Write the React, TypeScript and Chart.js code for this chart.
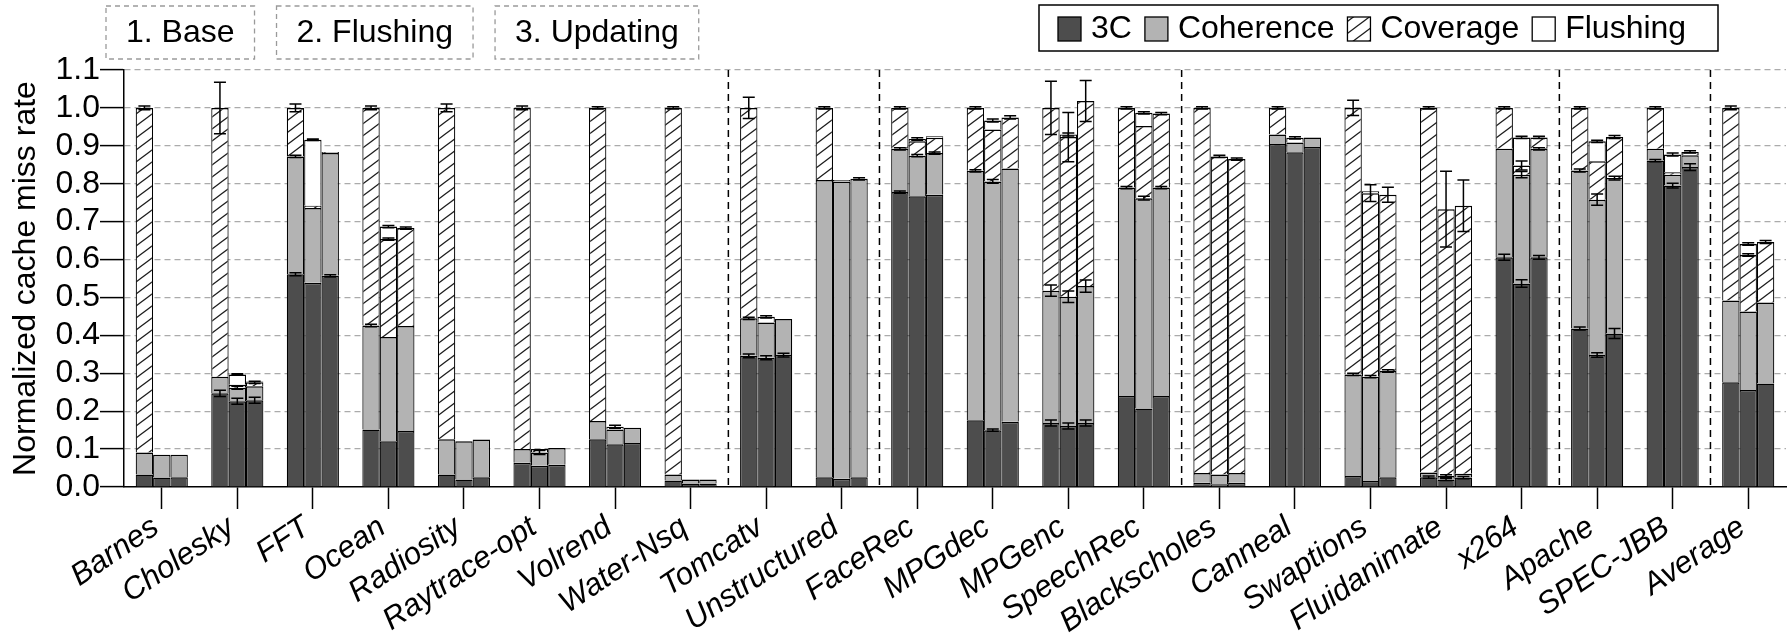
import React, { useEffect, useRef } from 'react';
import { Chart, registerables } from 'chart.js';

Chart.register(...registerables);

const categories = ['Barnes', 'Cholesky', 'FFT', 'Ocean', 'Radiosity', 'Raytrace-opt', 'Volrend', 'Water-Nsq', 'Tomcatv', 'Unstructured', 'FaceRec', 'MPGdec', 'MPGenc', 'SpeechRec', 'Blackscholes', 'Canneal', 'Swaptions', 'Fluidanimate', 'x264', 'Apache', 'SPEC-JBB', 'Average'];
const configLabels = ['1. Base', '2. Flushing', '3. Updating'];
const componentLabels = ['3C', 'Coherence', 'Coverage', 'Flushing'];
const yTickValues = [0, 0.1, 0.2, 0.3, 0.4, 0.5, 0.6, 0.7, 0.8, 0.9, 1.0, 1.1];
const separatorsAfter = ['Water-Nsq', 'Unstructured', 'SpeechRec', 'x264', 'SPEC-JBB'];

// 1. Base
const base3C = [0.033, 0.247, 0.561, 0.152, 0.033, 0.064, 0.126, 0.017, 0.346, 0.026, 0.778, 0.176, 0.169, 0.240, 0.011, 0.905, 0.029, 0.026, 0.606, 0.418, 0.861, 0.276];
const baseCoh = [0.058, 0.044, 0.311, 0.274, 0.093, 0.036, 0.048, 0.016, 0.099, 0.784, 0.114, 0.658, 0.349, 0.550, 0.026, 0.025, 0.268, 0.012, 0.286, 0.417, 0.031, 0.216];
const baseCov = [0.909, 0.709, 0.128, 0.574, 0.874, 0.900, 0.826, 0.967, 0.555, 0.190, 0.108, 0.166, 0.482, 0.210, 0.963, 0.070, 0.703, 0.962, 0.108, 0.165, 0.108, 0.508];
const baseFlush = [0, 0, 0, 0, 0, 0, 0, 0, 0, 0, 0, 0, 0, 0, 0, 0, 0, 0, 0, 0, 0, 0];

// 2. Flushing
const flush3C = [0.025, 0.226, 0.539, 0.121, 0.020, 0.056, 0.113, 0.009, 0.341, 0.022, 0.767, 0.150, 0.161, 0.207, 0.007, 0.883, 0.016, 0.020, 0.537, 0.348, 0.795, 0.256];
const flushCoh = [0.060, 0.036, 0.197, 0.275, 0.101, 0.035, 0.039, 0.011, 0.093, 0.784, 0.107, 0.656, 0.341, 0.555, 0.026, 0.026, 0.275, 0.009, 0.287, 0.410, 0.029, 0.207];
const flushCov = [0, 0.008, 0.006, 0.258, 0, 0.009, 0, 0, 0, 0, 0.038, 0.137, 0.421, 0.190, 0.839, 0, 0.484, 0.704, 0.024, 0.101, 0.006, 0.149];
const flushFlush = [0, 0.027, 0.174, 0.033, 0, 0, 0.007, 0, 0.015, 0.004, 0.006, 0.024, 0.007, 0.035, 0, 0.012, 0.005, 0, 0.074, 0.053, 0.047, 0.029];

// 3. Updating
const upd3C = [0.026, 0.229, 0.557, 0.148, 0.026, 0.059, 0.116, 0.009, 0.348, 0.026, 0.771, 0.172, 0.169, 0.240, 0.011, 0.897, 0.026, 0.025, 0.606, 0.405, 0.844, 0.273];
const updCoh = [0.059, 0.037, 0.324, 0.277, 0.099, 0.044, 0.040, 0.011, 0.095, 0.787, 0.110, 0.668, 0.361, 0.550, 0.026, 0.025, 0.280, 0.010, 0.286, 0.410, 0.031, 0.214];
const updCov = [0, 0.010, 0.003, 0.258, 0, 0, 0, 0, 0, 0, 0.040, 0.135, 0.488, 0.195, 0.828, 0, 0.465, 0.707, 0.030, 0.108, 0.009, 0.159];
const updFlush = [0, 0.002, 0, 0, 0, 0, 0, 0, 0, 0, 0.004, 0, 0, 0, 0, 0, 0, 0, 0, 0, 0, 0];

// Error bars (half-width, placed at the top of each segment)
const base3CErr = [0, 0.008, 0.004, 0, 0, 0, 0, 0, 0.005, 0, 0.003, 0, 0.008, 0, 0, 0, 0, 0.003, 0.008, 0.004, 0.003, 0];
const baseCohErr = [0, 0, 0.003, 0.003, 0, 0, 0, 0, 0.003, 0, 0.003, 0.003, 0.015, 0.003, 0, 0, 0.003, 0, 0, 0.004, 0, 0];
const baseCovErr = [0.005, 0.068, 0.01, 0.005, 0.01, 0.005, 0.003, 0.003, 0.028, 0.003, 0.003, 0.003, 0.07, 0.003, 0.003, 0.003, 0.02, 0.003, 0.003, 0.003, 0.003, 0.005];
const baseFlushErr = [0, 0, 0, 0, 0, 0, 0, 0, 0, 0, 0, 0, 0, 0, 0, 0, 0, 0, 0, 0, 0, 0];

const flush3CErr = [0, 0.008, 0, 0, 0, 0, 0, 0, 0.005, 0, 0, 0.003, 0.008, 0, 0, 0, 0, 0.003, 0.01, 0.006, 0.006, 0];
const flushCohErr = [0, 0.004, 0, 0, 0, 0.005, 0, 0, 0, 0, 0.003, 0.005, 0.015, 0.005, 0, 0, 0.003, 0.003, 0.008, 0.015, 0, 0];
const flushCovErr = [0, 0, 0, 0.003, 0, 0, 0, 0, 0, 0, 0, 0, 0.065, 0, 0.003, 0, 0.022, 0.1, 0.012, 0, 0, 0.003];
const flushFlushErr = [0, 0.002, 0.002, 0.003, 0, 0, 0.004, 0, 0.003, 0, 0.003, 0.004, 0.004, 0.003, 0, 0.003, 0, 0, 0.003, 0.003, 0.004, 0.003];

const upd3CErr = [0, 0.008, 0.003, 0, 0, 0, 0, 0, 0.005, 0, 0, 0, 0.008, 0, 0, 0, 0, 0.003, 0.005, 0.013, 0.009, 0];
const updCohErr = [0, 0, 0, 0, 0, 0, 0, 0, 0, 0.003, 0.003, 0, 0.016, 0.003, 0, 0, 0.003, 0, 0.003, 0.005, 0, 0];
const updCovErr = [0, 0.003, 0, 0.003, 0, 0, 0, 0, 0, 0, 0, 0.004, 0.054, 0.003, 0.003, 0, 0.02, 0.068, 0.003, 0.004, 0.003, 0.004];
const updFlushErr = [0, 0, 0, 0, 0, 0, 0, 0, 0, 0, 0, 0, 0, 0, 0, 0, 0, 0, 0, 0, 0, 0];

const FONT = "'Liberation Sans', Arial, Helvetica, sans-serif";

function makeHatch(): CanvasPattern | string {
  const c = document.createElement('canvas');
  c.width = 16;
  c.height = 12;
  const g = c.getContext('2d');
  if (!g) return '#fff';
  g.fillStyle = '#ffffff';
  g.fillRect(0, 0, 16, 12);
  g.strokeStyle = '#1a1a1a';
  g.lineWidth = 1.3;
  for (const p of [0, 1, 2]) {
    g.beginPath();
    g.moveTo(-16, 12 * p + 12);
    g.lineTo(32, 12 * p - 24);
    g.stroke();
  }
  return g.createPattern(c, 'repeat') || '#fff';
}

export default function App() {
  const ref = useRef<HTMLCanvasElement>(null);

  useEffect(() => {
    document.body.style.margin = '0';
    const canvas = ref.current;
    if (!canvas) return;
    const hatch = makeHatch();
    const fills: any[] = ['#4d4d4d', '#b3b3b3', hatch, '#ffffff'];

    const configs = [
      { key: 'base', parts: [base3C, baseCoh, baseCov, baseFlush], errs: [base3CErr, baseCohErr, baseCovErr, baseFlushErr] },
      { key: 'flush', parts: [flush3C, flushCoh, flushCov, flushFlush], errs: [flush3CErr, flushCohErr, flushCovErr, flushFlushErr] },
      { key: 'update', parts: [upd3C, updCoh, updCov, updFlush], errs: [upd3CErr, updCohErr, updCovErr, updFlushErr] },
    ];

    const datasets: any[] = [];
    const dsInfo: { c: number; k: number }[] = [];
    configs.forEach((cfg, ci) => {
      cfg.parts.forEach((arr, k) => {
        datasets.push({
          label: componentLabels[k],
          data: arr,
          stack: cfg.key,
          backgroundColor: fills[k],
          borderColor: '#000000',
          borderWidth: { top: 1.5, left: 1.2, right: 1.2, bottom: 0 },
          borderSkipped: false,
        });
        dsInfo.push({ c: ci, k });
      });
    });

    const separatorPlugin = {
      id: 'separators',
      beforeDatasetsDraw(chart: any) {
        const { ctx, chartArea, scales } = chart;
        const xs = scales.x;
        ctx.save();
        ctx.strokeStyle = '#000';
        ctx.lineWidth = 1.5;
        ctx.setLineDash([7, 5]);
        separatorsAfter.forEach((name) => {
          const i = categories.indexOf(name);
          const x = (xs.getPixelForValue(i) + xs.getPixelForValue(i + 1)) / 2;
          ctx.beginPath();
          ctx.moveTo(x, chartArea.top);
          ctx.lineTo(x, chartArea.bottom);
          ctx.stroke();
        });
        ctx.restore();
      },
    };

    const errorPlugin = {
      id: 'errorbars',
      afterDatasetsDraw(chart: any) {
        const { ctx, scales } = chart;
        const ys = scales.y;
        ctx.save();
        ctx.strokeStyle = '#000';
        ctx.lineWidth = 1.5;
        ctx.setLineDash([]);
        dsInfo.forEach((info, d) => {
          const meta = chart.getDatasetMeta(d);
          const cfg = configs[info.c];
          const errs = cfg.errs[info.k];
          errs.forEach((e, j) => {
            if (!e) return;
            let top = 0;
            for (let m = 0; m <= info.k; m++) top += cfg.parts[m][j];
            const x = meta.data[j].x;
            const y1 = ys.getPixelForValue(top + e);
            const y2 = ys.getPixelForValue(top - e);
            const cw = 6;
            ctx.beginPath();
            ctx.moveTo(x, y1);
            ctx.lineTo(x, y2);
            ctx.moveTo(x - cw, y1);
            ctx.lineTo(x + cw, y1);
            ctx.moveTo(x - cw, y2);
            ctx.lineTo(x + cw, y2);
            ctx.stroke();
          });
        });
        ctx.restore();
      },
    };

    const decorPlugin = {
      id: 'decor',
      afterDraw(chart: any) {
        const { ctx } = chart;
        ctx.save();
        ctx.font = `32px ${FONT}`;
        ctx.textBaseline = 'middle';
        // group labels (dashed boxes)
        let gx = 106;
        configLabels.forEach((lab) => {
          const w = ctx.measureText(lab).width + 40;
          ctx.setLineDash([5, 4]);
          ctx.strokeStyle = '#9a9a9a';
          ctx.lineWidth = 1.3;
          ctx.strokeRect(gx, 6, w, 53);
          ctx.setLineDash([]);
          ctx.fillStyle = '#000';
          ctx.textAlign = 'center';
          ctx.fillText(lab, gx + w / 2, 33);
          gx += w + 22;
        });
        // legend
        ctx.textAlign = 'left';
        ctx.setLineDash([]);
        ctx.strokeStyle = '#000';
        ctx.lineWidth = 1.5;
        ctx.strokeRect(1039, 5, 679, 46);
        let x = 1058;
        componentLabels.forEach((lab, k) => {
          ctx.fillStyle = fills[k];
          ctx.fillRect(x, 17, 23, 24);
          ctx.strokeStyle = '#000';
          ctx.lineWidth = 1.3;
          ctx.strokeRect(x, 17, 23, 24);
          x += 23 + 10;
          ctx.fillStyle = '#000';
          ctx.fillText(lab, x, 29);
          x += ctx.measureText(lab).width + 13;
        });
        ctx.restore();
      },
    };

    const chart = new Chart(canvas, {
      type: 'bar',
      data: { labels: categories, datasets },
      plugins: [separatorPlugin, errorPlugin, decorPlugin],
      options: {
        animation: false,
        responsive: false,
        maintainAspectRatio: false,
        layout: { padding: { top: 70, right: 5, bottom: 0, left: 0 } },
        datasets: { bar: { categoryPercentage: 0.69, barPercentage: 1.0 } },
        plugins: { legend: { display: false }, tooltip: { enabled: false }, title: { display: false } },
        scales: {
          x: {
            type: 'category',
            stacked: true,
            offset: true,
            grid: { offset: false, drawOnChartArea: false, drawTicks: true, tickLength: 22, tickColor: '#000', tickWidth: 1.5, color: '#000' },
            border: { display: true, color: '#000', width: 1.5 },
            ticks: { autoSkip: false, maxRotation: 34, minRotation: 34, padding: 0, labelOffset: -6, color: '#000', font: { family: FONT, size: 31, style: 'italic' } },
            afterFit: (s: any) => { s.height = 146; },
          },
          y: {
            stacked: true,
            min: 0,
            max: 1.1,
            afterBuildTicks: (s: any) => { s.ticks = yTickValues.map((v) => ({ value: v })); },
            border: { display: true, color: '#000', width: 1.5, dash: [6, 4] },
            grid: {
              color: (c: any) => (c.tick && c.tick.value === 0 ? 'rgba(0,0,0,0)' : '#ababab'),
              lineWidth: 1.2,
              tickLength: 24,
              tickColor: '#000',
              tickWidth: 1.5,
              tickBorderDash: [],
            },
            ticks: { autoSkip: false, padding: 0, color: '#000', font: { family: FONT, size: 32 }, callback: (v: any) => Number(v).toFixed(1) },
            title: { display: true, text: 'Normalized cache miss rate', color: '#000', font: { family: FONT, size: 32 }, padding: { top: 7, bottom: 0 } },
            afterFit: (s: any) => { s.width = 124; },
          },
        },
      } as any,
    });
    return () => chart.destroy();
  }, []);

  return (
    <div style={{ width: 1791, height: 633 }}>
      <canvas ref={ref} width={1791} height={633} />
    </div>
  );
}
